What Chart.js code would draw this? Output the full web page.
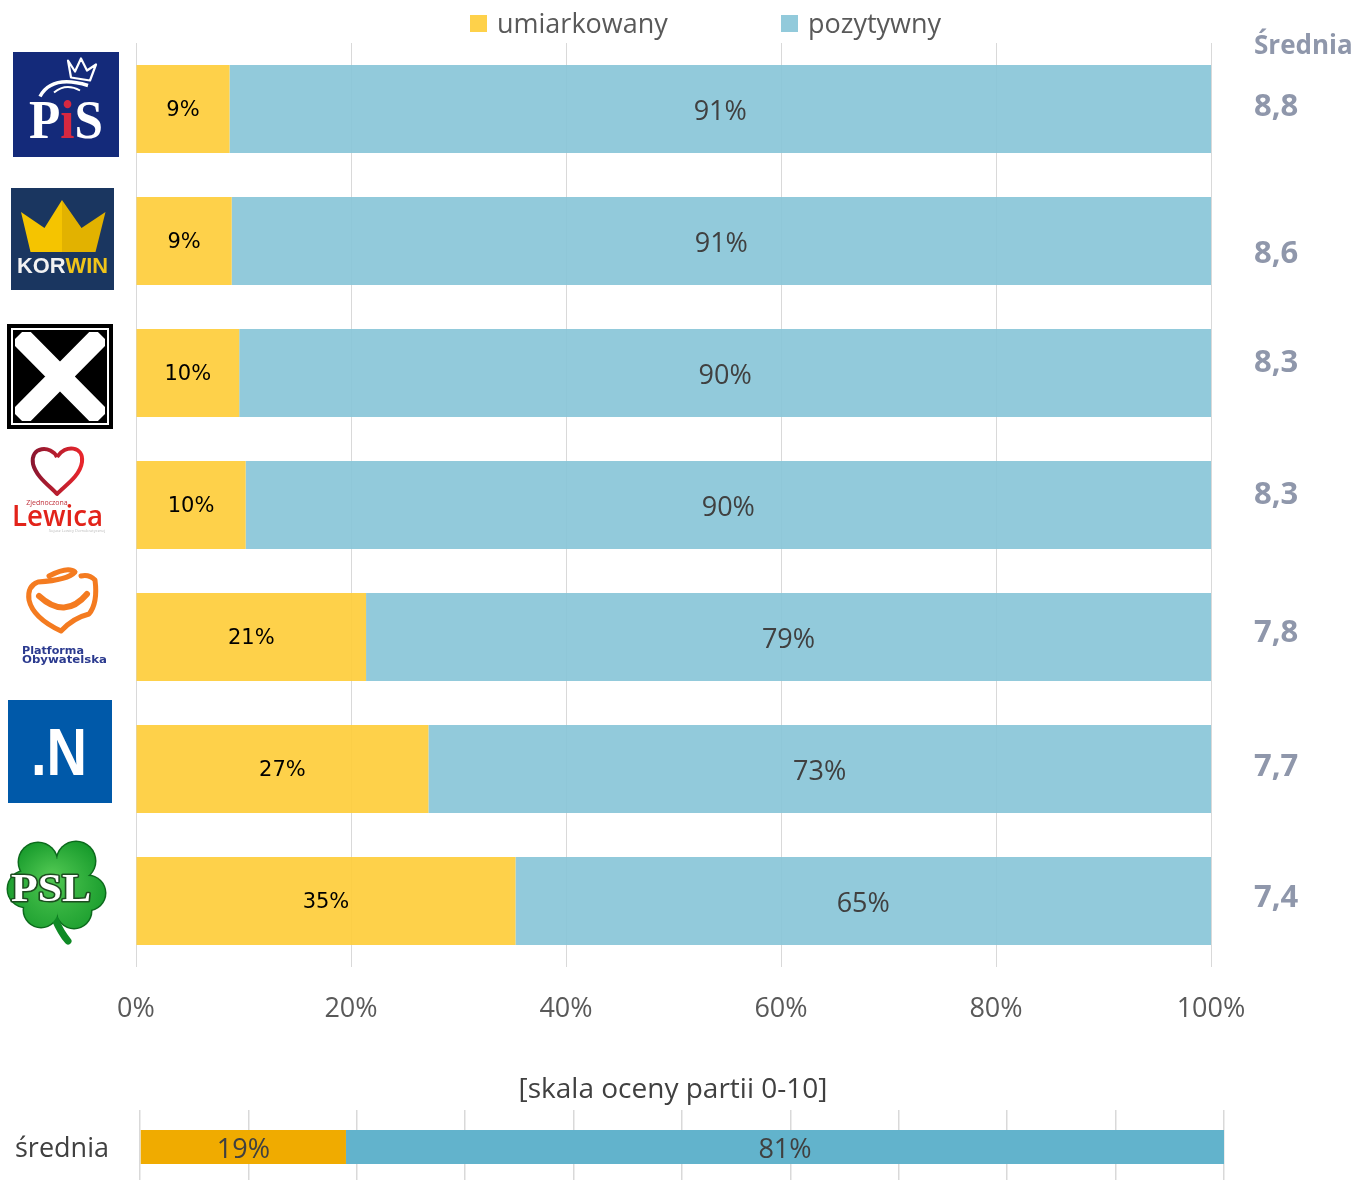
<!DOCTYPE html>
<html><head><meta charset="utf-8">
<script src="https://cdn.jsdelivr.net/npm/chart.js@4.4.0/dist/chart.umd.min.js"></script>
<style>
html,body{margin:0;padding:0;background:#fff;overflow:hidden;width:1359px;height:1180px;}
.w{position:absolute;left:0;width:1359px;}
</style></head><body>
<div class="w" style="top:0;height:1052px"><canvas id="c1"></canvas></div>
<div class="w" style="top:1050px;height:140px"><canvas id="c2"></canvas></div>
<script>
// ---- DATA ----
const parties = ['PiS', 'KORWIN', "Kukiz'15", 'Zjednoczona Lewica', 'Platforma Obywatelska', 'Nowoczesna', 'PSL'];
const seriesNames = ['umiarkowany', 'pozytywny'];
const umiarkowany = [8.7, 8.9, 9.6, 10.2, 21.4, 27.2, 35.3];
const pozytywny = [91.3, 91.1, 90.4, 89.8, 78.6, 72.8, 64.7];
const sredniaHeader = 'Średnia';
const srednia = ['8,8', '8,6', '8,3', '8,3', '7,8', '7,7', '7,4'];
const xTicks = [0, 20, 40, 60, 80, 100];
const overallTitle = '[skala oceny partii 0-10]';
const overallCategory = ['średnia'];
const overallUmiarkowany = [19];
const overallPozytywny = [81];

// ---- STYLE ----
const F = '"Open Sans", "Noto Sans", sans-serif';
const colYellow = 'rgba(254,204,54,0.9)';
const colBlue = 'rgba(134,196,215,0.9)';
const colYellow2 = '#f0ab00';
const colBlue2 = '#62b3cc';
const avgColor = '#8f97ab';
const avgNudge = [-2, 13, -10, -10, -4, -2, -3];
const logoX = [66, 62.5, 60, 57, 63, 60, 57];
const logoDy = [-4.5, -2, 3.5, -14, -19, -17.5, -10];
const pct = v => Math.round(v) + '%';

function fitText(ctx, text, x, y, font, w, align) {
  ctx.save();
  ctx.font = font;
  const m = ctx.measureText(text).width;
  const s = w / m;
  ctx.translate(x, y);
  ctx.scale(s, 1);
  ctx.textAlign = align || 'center';
  ctx.fillText(text, 0, 0);
  ctx.restore();
}

function drawLogo(ctx, i, cx, cy) {
  ctx.save();
  ctx.textBaseline = 'alphabetic';
  if (i === 0) { // PiS
    ctx.fillStyle = '#142a7a';
    ctx.fillRect(cx - 53, cy - 52.5, 106, 105);
    ctx.strokeStyle = '#fff'; ctx.lineWidth = 2.2; ctx.lineJoin = 'round';
    ctx.beginPath();
    ctx.moveTo(cx + 2, cy - 44); ctx.lineTo(cx + 9, cy - 33); ctx.lineTo(cx + 15, cy - 46);
    ctx.lineTo(cx + 21, cy - 34); ctx.lineTo(cx + 30, cy - 40); ctx.lineTo(cx + 24, cy - 24);
    ctx.lineTo(cx + 5, cy - 27); ctx.closePath(); ctx.stroke();
    ctx.lineWidth = 3.5;
    ctx.beginPath(); ctx.moveTo(cx - 26, cy - 8); ctx.quadraticCurveTo(cx - 14, cy - 30, cx + 22, cy - 19); ctx.stroke();
    ctx.lineWidth = 2;
    ctx.beginPath(); ctx.moveTo(cx - 12, cy - 12); ctx.quadraticCurveTo(cx, cy - 22, cx + 14, cy - 14); ctx.stroke();
    ctx.font = 'bold 54px "Liberation Serif", serif';
    const base = cy + 33;
    const wP = ctx.measureText('P').width, wI = ctx.measureText('i').width, wS = ctx.measureText('S').width;
    const sc = 74 / (wP + wI + wS);
    ctx.save(); ctx.translate(cx - 37, base); ctx.scale(sc, 1);
    ctx.textAlign = 'left';
    ctx.fillStyle = '#fff'; ctx.fillText('P', 0, 0);
    ctx.fillStyle = '#d62840'; ctx.fillText('i', wP, 0);
    ctx.fillStyle = '#fff'; ctx.fillText('S', wP + wI, 0);
    ctx.restore();
  } else if (i === 1) { // KORWIN
    ctx.fillStyle = '#1a3660';
    ctx.fillRect(cx - 51.5, cy - 51, 103, 102);
    const t = cy - 39;
    ctx.fillStyle = '#111';
    ctx.beginPath();
    ctx.moveTo(cx - 41, t + 13); ctx.lineTo(cx - 16, t + 30); ctx.lineTo(cx - 17, t + 33); ctx.closePath(); ctx.fill();
    ctx.beginPath();
    ctx.moveTo(cx + 43, t + 13); ctx.lineTo(cx + 18, t + 30); ctx.lineTo(cx + 19, t + 33); ctx.closePath(); ctx.fill();
    ctx.fillStyle = '#f5c400';
    ctx.beginPath();
    ctx.moveTo(cx - 41.5, t + 12); ctx.lineTo(cx - 18, t + 28); ctx.lineTo(cx - 0.5, t);
    ctx.lineTo(cx - 0.5, t + 52); ctx.lineTo(cx - 32, t + 52); ctx.closePath(); ctx.fill();
    ctx.fillStyle = '#e2b200';
    ctx.beginPath();
    ctx.moveTo(cx - 0.5, t); ctx.lineTo(cx + 19, t + 28); ctx.lineTo(cx + 43, t + 12);
    ctx.lineTo(cx + 33, t + 52); ctx.lineTo(cx - 0.5, t + 52); ctx.closePath(); ctx.fill();
    ctx.font = 'bold 22px "Liberation Sans", sans-serif';
    const base = cy + 34;
    const w1 = ctx.measureText('KOR').width, w2 = ctx.measureText('WIN').width;
    const sc = 91 / (w1 + w2);
    ctx.save(); ctx.translate(cx - 45.5, base); ctx.scale(sc, 1); ctx.textAlign = 'left';
    ctx.fillStyle = '#f2f2f2'; ctx.fillText('KOR', 0, 0);
    ctx.fillStyle = '#f0c419'; ctx.fillText('WIN', w1, 0);
    ctx.restore();
  } else if (i === 2) { // Kukiz'15
    const x = cx - 53, y = cy - 52.5, w = 106, h = 105;
    ctx.fillStyle = '#000'; ctx.fillRect(x, y, w, h);
    ctx.strokeStyle = '#fff'; ctx.lineWidth = 2; ctx.strokeRect(x + 5, y + 5, w - 10, h - 10);
    ctx.save();
    ctx.beginPath(); ctx.rect(x + 8, y + 8, w - 16, h - 16); ctx.clip();
    ctx.strokeStyle = '#fff'; ctx.lineWidth = 21; ctx.lineCap = 'butt';
    ctx.beginPath();
    ctx.moveTo(x + 12, y + 11); ctx.lineTo(x + w - 12, y + h - 11);
    ctx.moveTo(x + w - 12, y + 11); ctx.lineTo(x + 12, y + h - 11);
    ctx.stroke();
    ctx.restore();
  } else if (i === 3) { // Lewica
    const top = cy - 44;
    const g = ctx.createLinearGradient(cx - 25, 0, cx + 25, 0);
    g.addColorStop(0, '#8a1630'); g.addColorStop(1, '#e8262c');
    ctx.strokeStyle = g; ctx.lineWidth = 4; ctx.lineJoin = 'round';
    ctx.beginPath();
    ctx.moveTo(cx, top + 10);
    ctx.bezierCurveTo(cx - 6, top - 2, cx - 27, top - 1, cx - 24, top + 17);
    ctx.bezierCurveTo(cx - 21, top + 30, cx - 6, top + 40, cx, top + 47);
    ctx.bezierCurveTo(cx + 6, top + 40, cx + 23, top + 30, cx + 25, top + 15);
    ctx.bezierCurveTo(cx + 27, top - 1, cx + 8, top - 3, cx, top + 10);
    ctx.stroke();
    ctx.fillStyle = '#c0303a';
    ctx.font = '7px ' + F; ctx.textAlign = 'center';
    ctx.fillText('Zjednoczona', cx - 10, cy + 14);
    ctx.fillStyle = '#e2231a';
    fitText(ctx, 'Lewica', cx + 0.5, cy + 35, '600 28px ' + F, 91);
    ctx.fillStyle = '#bbb';
    ctx.font = '4px ' + F; ctx.fillText('Sojusz Lewicy Demokratycznej', cx + 20, cy + 41);
  } else if (i === 4) { // PO
    const oy = cy - 50;
    ctx.strokeStyle = '#f47b20'; ctx.lineWidth = 5; ctx.lineJoin = 'round'; ctx.lineCap = 'round';
    ctx.beginPath();
    ctx.moveTo(cx - 14, oy + 8);
    ctx.quadraticCurveTo(cx + 5, oy - 2, cx + 12, oy + 4);
    ctx.quadraticCurveTo(cx + 5, oy + 12, cx - 25, oy + 14);
    ctx.quadraticCurveTo(cx - 36, oy + 18, cx - 34, oy + 32);
    ctx.quadraticCurveTo(cx - 30, oy + 50, cx - 2, oy + 63);
    ctx.quadraticCurveTo(cx + 10, oy + 50, cx + 26, oy + 46);
    ctx.quadraticCurveTo(cx + 35, oy + 35, cx + 32, oy + 12);
    ctx.quadraticCurveTo(cx + 26, oy + 6, cx + 18, oy + 8);
    ctx.stroke();
    ctx.lineWidth = 6;
    ctx.beginPath();
    ctx.moveTo(cx - 24, oy + 28);
    ctx.quadraticCurveTo(cx + 2, oy + 52, cx + 24, oy + 26);
    ctx.stroke();
    ctx.fillStyle = '#2b3a8f';
    fitText(ctx, 'Platforma', cx - 10, cy + 36, 'bold 11px "DejaVu Sans", sans-serif', 62);
    fitText(ctx, 'Obywatelska', cx + 1.5, cy + 45, 'bold 11px "DejaVu Sans", sans-serif', 85);
  } else if (i === 5) { // .N
    ctx.fillStyle = '#0059a9';
    ctx.fillRect(cx - 52, cy - 51.5, 104, 103);
    ctx.fillStyle = '#fff';
    fitText(ctx, '.N', cx - 1, cy + 23, 'bold 66px "Liberation Sans", sans-serif', 56);
  } else if (i === 6) { // PSL
    const lobes = [[-19, -29, 19], [19, -30, 19], [-31, -2, 18], [31, 2, 17], [-16, 19, 17], [17, 20, 17], [0, -6, 26]];
    ctx.fillStyle = '#0c6a1c';
    lobes.forEach(l => { ctx.beginPath(); ctx.arc(cx + l[0], cy + l[1], l[2] + 1.5, 0, Math.PI * 2); ctx.fill(); });
    ctx.strokeStyle = '#0f8a25'; ctx.lineWidth = 7; ctx.lineCap = 'round';
    ctx.beginPath(); ctx.moveTo(cx - 2, cy + 28); ctx.quadraticCurveTo(cx + 4, cy + 42, cx + 11, cy + 50); ctx.stroke();
    const g = ctx.createRadialGradient(cx - 5, cy - 15, 5, cx, cy, 55);
    g.addColorStop(0, '#4cc44f'); g.addColorStop(1, '#169a2b');
    ctx.fillStyle = g;
    lobes.forEach(l => { ctx.beginPath(); ctx.arc(cx + l[0], cy + l[1], l[2], 0, Math.PI * 2); ctx.fill(); });
    ctx.save();
    ctx.font = 'bold 40px "Liberation Serif", serif';
    const m = ctx.measureText('PSL').width;
    ctx.translate(cx - 6, cy + 10); ctx.scale(80 / m, 1);
    ctx.textAlign = 'center';
    ctx.lineWidth = 3; ctx.strokeStyle = '#1d4d20'; ctx.lineJoin = 'round';
    ctx.strokeText('PSL', 0, 0);
    ctx.fillStyle = '#fff'; ctx.fillText('PSL', 0, 0);
    ctx.restore();
  }
  ctx.restore();
}

const mainPlugin = {
  id: 'mainDecor',
  afterDraw(chart) {
    const ctx = chart.ctx;
    const ys = chart.scales.y;
    // legend
    ctx.save();
    const legX = [470, 781];
    chart.data.datasets.forEach((ds, k) => {
      ctx.fillStyle = k === 0 ? '#fed14a' : '#92cadb';
      ctx.fillRect(legX[k], 15, 17, 17);
      ctx.fillStyle = '#595959';
      ctx.font = '27px ' + F;
      ctx.textAlign = 'left'; ctx.textBaseline = 'middle';
      ctx.fillText(ds.label, legX[k] + 27, 25);
    });
    // bar labels
    const m0 = chart.getDatasetMeta(0), m1 = chart.getDatasetMeta(1);
    ctx.textAlign = 'center'; ctx.textBaseline = 'middle';
    m0.data.forEach((bar, j) => {
      ctx.fillStyle = '#000';
      ctx.font = '21px "DejaVu Sans", sans-serif';
      ctx.fillText(pct(umiarkowany[j]), (bar.base + bar.x) / 2, bar.y + 2);
    });
    m1.data.forEach((bar, j) => {
      ctx.fillStyle = '#404040';
      ctx.font = '27px ' + F;
      ctx.fillText(pct(pozytywny[j]), (bar.base + bar.x) / 2, bar.y + 3);
    });
    // averages column
    ctx.textAlign = 'left';
    ctx.fillStyle = avgColor;
    ctx.font = 'bold 26px ' + F;
    ctx.fillText(sredniaHeader, 1254, 47);
    ctx.font = 'bold 31px ' + F;
    srednia.forEach((s, j) => {
      ctx.fillText(s, 1254, ys.getPixelForValue(j) + avgNudge[j]);
    });
    // logos
    parties.forEach((p, j) => drawLogo(ctx, j, logoX[j], ys.getPixelForValue(j) + logoDy[j]));
    ctx.restore();
  }
};

const bottomPlugin = {
  id: 'bottomDecor',
  afterDraw(chart) {
    const ctx = chart.ctx;
    const ys = chart.scales.y;
    ctx.save();
    ctx.fillStyle = '#404040';
    ctx.textBaseline = 'middle';
    ctx.textAlign = 'center';
    ctx.font = '28px ' + F;
    ctx.fillText(overallTitle, 673, 40);
    ctx.textAlign = 'left';
    ctx.font = '27px ' + F;
    overallCategory.forEach((c, j) => ctx.fillText(c, 15, ys.getPixelForValue(j) + 2));
    ctx.textAlign = 'center';
    const vals = [overallUmiarkowany, overallPozytywny];
    [0, 1].forEach(k => {
      chart.getDatasetMeta(k).data.forEach((bar, j) => {
        ctx.fillText(pct(vals[k][j]), (bar.base + bar.x) / 2, bar.y + 3);
      });
    });
    ctx.restore();
  }
};

function build() {
  new Chart(document.getElementById('c1'), {
    type: 'bar',
    data: {
      labels: parties,
      datasets: [
        { label: seriesNames[0], data: umiarkowany, backgroundColor: colYellow, borderWidth: 0 },
        { label: seriesNames[1], data: pozytywny, backgroundColor: colBlue, borderWidth: 0 }
      ]
    },
    options: {
      indexAxis: 'y',
      responsive: true,
      maintainAspectRatio: false,
      animation: false,
      categoryPercentage: 1,
      barPercentage: 88 / 132,
      layout: { padding: { left: 136, right: 148, top: 43, bottom: 0.6 } },
      plugins: { legend: { display: false }, tooltip: { enabled: false }, title: { display: false } },
      scales: {
        x: {
          stacked: true, min: xTicks[0], max: xTicks[xTicks.length - 1],
          afterBuildTicks: s => { s.ticks = xTicks.map(v => ({ value: v })); },
          ticks: { callback: v => v + '%', color: '#595959', font: { family: F, size: 27 }, padding: 26, maxRotation: 0 },
          grid: { color: '#d9d9d9', lineWidth: 1, drawTicks: false },
          border: { display: false }
        },
        y: {
          stacked: true,
          ticks: { display: false },
          grid: { display: false, drawTicks: false },
          border: { display: false }
        }
      }
    },
    plugins: [mainPlugin]
  });

  new Chart(document.getElementById('c2'), {
    type: 'bar',
    data: {
      labels: overallCategory,
      datasets: [
        { label: seriesNames[0], data: overallUmiarkowany, backgroundColor: colYellow2, borderWidth: 0 },
        { label: seriesNames[1], data: overallPozytywny, backgroundColor: colBlue2, borderWidth: 0 }
      ]
    },
    options: {
      indexAxis: 'y',
      responsive: true,
      maintainAspectRatio: false,
      animation: false,
      categoryPercentage: 1,
      barPercentage: 34 / 74,
      layout: { padding: { left: 140, right: 135, top: 60, bottom: 6 } },
      plugins: { legend: { display: false }, tooltip: { enabled: false } },
      scales: {
        x: {
          stacked: true, min: 0, max: 100,
          ticks: { display: false, stepSize: 10 },
          grid: { color: '#d9d9d9', lineWidth: 1.5, drawTicks: false },
          border: { display: false }
        },
        y: {
          stacked: true,
          ticks: { display: false },
          grid: { display: false, drawTicks: false },
          border: { display: false }
        }
      }
    },
    plugins: [bottomPlugin]
  });
}

const fontLoads = [
  '27px "Open Sans"', 'bold 27px "Open Sans"', '600 27px "Open Sans"',
  '20px "DejaVu Sans"', 'bold 11px "DejaVu Sans"', 'bold 40px "Liberation Serif"', 'bold 22px "Liberation Sans"'
].map(f => document.fonts.load(f).catch(() => null));
Promise.all(fontLoads).then(build, build);
</script>
</body></html>
